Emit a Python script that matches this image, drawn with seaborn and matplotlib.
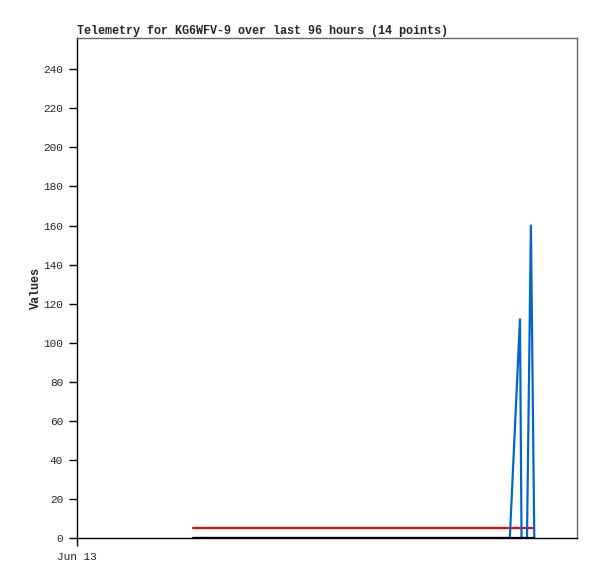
import pandas as pd
import matplotlib
matplotlib.use("Agg")
import matplotlib.pyplot as plt
import matplotlib.dates as mdates
import seaborn as sns

# hours after Jun 13 00:00 for each telemetry sample
hours = [22.3, 83.1, 85.05, 85.35, 86.4, 87.15, 87.8]
ch_blue = [0, 0, 112, 0, 0, 160, 0]
ch_red = [5, 5, 5, 5, 5, 5, 5]
ch_black = [0, 0, 0, 0, 0, 0, 0]

start = pd.Timestamp("2024-06-13 00:00")
times = [start + pd.Timedelta(hours=h) for h in hours]
df = pd.DataFrame({"time": times, "blue": ch_blue, "red": ch_red, "black": ch_black})

sns.set_style("white")
plt.rcParams['font.family'] = ['Liberation Mono', 'DejaVu Sans Mono']

fig = plt.figure(figsize=(5.97, 5.79), dpi=100)
ax = fig.add_axes([77/597, 1 - 538/579, 500/597, 500/579])

sns.lineplot(data=df, x="time", y="red", color="#ff0000", linewidth=1.6, ax=ax)
sns.lineplot(data=df, x="time", y="blue", color="#0066cc", linewidth=1.6, ax=ax)
sns.lineplot(data=df, x="time", y="black", color="#000000", linewidth=1.6, ax=ax)

ax.set_xlim(start, start + pd.Timedelta(hours=96))
ax.set_ylim(0, 256)
ax.set_yticks(range(0, 241, 20))
ax.set_xticks([start])
ax.xaxis.set_major_formatter(mdates.DateFormatter("%b %d"))

ax.tick_params(axis="both", direction="out", length=6, width=1, color="black",
               labelsize=8, pad=4, left=True, bottom=True)
for side in ["left", "bottom"]:
    ax.spines[side].set_color("black")
    ax.spines[side].set_linewidth(1)
for side in ["top", "right"]:
    ax.spines[side].set_color("#666666")
    ax.spines[side].set_linewidth(1)

ax.set_xlabel("")
ax.set_ylabel("Values", fontsize=8.5, fontweight="bold", labelpad=1)
ax.set_title("Telemetry for KG6WFV-9 over last 96 hours (14 points)",
             fontsize=8.5, fontweight="bold", loc="left", pad=3)

fig.savefig("out.png", dpi=100)
